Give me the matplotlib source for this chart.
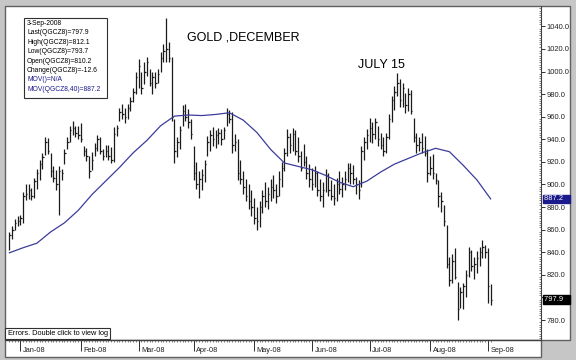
import numpy as np
import pandas as pd
import matplotlib
matplotlib.use("Agg")
import matplotlib.pyplot as plt
import matplotlib.transforms as mtransforms
from matplotlib.patches import Rectangle

plt.rcParams['font.family'] = ['Liberation Sans', 'DejaVu Sans']

# trading days shown on the chart (Dec gold futures)
holidays = ["2008-01-01", "2008-03-21", "2008-05-26", "2008-07-04", "2008-09-01"]
dates = pd.bdate_range("2007-12-26", "2008-09-03")
dates = dates[~dates.isin(pd.to_datetime(holidays))]

highs = [858, 863, 869, 872, 873, 893, 900, 900, 897, 906,
         914, 922, 928, 942, 941, 928, 916, 913, 916, 914,
         931, 942, 952, 956, 952, 952, 954, 934, 932, 925,
         929, 937, 944, 942, 931, 935, 935, 933, 951, 953,
         968, 971, 968, 971, 977, 985, 1000, 1011, 1000, 1008,
         1013, 1002, 1000, 1000, 1002, 1017, 1024, 1047, 1026, 1013,
         958, 942, 952, 970, 971, 967, 958, 934, 920, 912,
         914, 922, 943, 948, 951, 948, 950, 949, 951, 968,
         966, 964, 945, 940, 922, 912, 905, 900, 895, 888,
         880, 885, 895, 902, 898, 905, 908, 900, 912, 920,
         932, 949, 946, 950, 948, 942, 930, 936, 925, 918,
         915, 916, 912, 905, 902, 914, 910, 904, 900, 906,
         912, 907, 912, 919, 919, 917, 907, 904, 934, 942,
         949, 959, 955, 959, 952, 946, 942, 946, 962, 978,
         987, 999, 993, 990, 981, 985, 984, 959, 946, 942,
         946, 943, 931, 925, 927, 910, 904, 893, 882, 864,
         836, 838, 844, 814, 809, 813, 824, 845, 842, 836,
         841, 845, 851, 846, 844, 812.1]
lows = [842, 852, 860, 863, 864, 866, 886, 887, 886, 888,
        896, 904, 914, 926, 927, 907, 902, 895, 873, 904,
        918, 931, 938, 944, 942, 940, 938, 925, 921, 906,
        913, 925, 930, 927, 922, 924, 922, 919, 920, 943,
        956, 958, 954, 958, 965, 973, 980, 985, 980, 989,
        996, 987, 980, 985, 990, 1000, 1008, 1008, 1008, 956,
        919, 924, 931, 952, 956, 950, 940, 904, 896, 888,
        895, 902, 925, 930, 934, 932, 936, 935, 940, 952,
        954, 928, 930, 904, 900, 892, 885, 878, 872, 865,
        860, 862, 875, 880, 878, 885, 888, 884, 890, 898,
        912, 925, 928, 930, 926, 920, 912, 916, 905, 898,
        895, 898, 890, 885, 880, 893, 890, 886, 882, 885,
        892, 889, 895, 902, 900, 900, 892, 887, 898, 922,
        931, 938, 937, 940, 934, 931, 925, 928, 940, 955,
        966, 978, 969, 969, 963, 965, 962, 938, 928, 930,
        928, 925, 902, 908, 905, 900, 880, 876, 863, 826,
        810, 813, 816, 780, 791, 790, 800, 818, 823, 816,
        822, 828, 835, 835, 795, 793.7]
closes = [855, 860, 866, 868, 870, 890, 892, 895, 890, 903,
          910, 918, 924, 938, 930, 912, 906, 900, 912, 910,
          928, 938, 948, 950, 946, 944, 940, 930, 925, 912,
          922, 932, 940, 930, 925, 930, 925, 922, 945, 950,
          964, 962, 960, 968, 974, 982, 995, 1005, 985, 1000,
          1008, 990, 995, 990, 998, 1012, 1018, 1020, 1012, 960,
          930, 938, 948, 965, 960, 955, 945, 910, 900, 905,
          908, 918, 938, 944, 940, 944, 946, 940, 948, 962,
          958, 935, 938, 910, 905, 898, 890, 885, 880, 870,
          868, 880, 890, 885, 892, 898, 895, 890, 905, 915,
          928, 942, 935, 945, 930, 925, 915, 920, 910, 905,
          900, 910, 895, 890, 895, 908, 895, 890, 888, 900,
          896, 900, 905, 915, 910, 905, 900, 895, 930, 938,
          944, 950, 945, 955, 940, 935, 930, 942, 958, 975,
          982, 990, 975, 985, 970, 980, 965, 942, 935, 938,
          932, 928, 910, 915, 910, 904, 890, 885, 868, 830,
          815, 832, 818, 790, 805, 810, 820, 840, 828, 830,
          835, 840, 845, 840, 810.5, 797.9]

# 40-day moving average, read every 5th bar
ma40 = [839.5, 844, 848, 858, 866, 877, 891, 903, 915, 928,
        939, 952, 960.5, 961.5, 961, 962, 963.5, 957, 946, 931,
        919, 916, 913, 908, 902, 898, 903, 911, 918, 923,
        928, 932, 929, 917, 904, 887.2]

legend_lines = ["3-Sep-2008", "Last(QGCZ8)=797.9", "High(QGCZ8)=812.1",
                "Low(QGCZ8)=793.7", "Open(QGCZ8)=810.2", "Change(QGCZ8)=-12.6",
                "MOV()=N/A", "MOV(QGCZ8,40)=887.2"]
legend_colors = ["black"] * 6 + ["#1a1a8c"] * 2

W, H = 576, 360
BG = "#c6c6c6"
BAR = "#1a1a1a"
NAVY = "#1a1a8c"


def frect(x0, y0, x1, y1):
    # pixel box (top-left origin) -> figure fraction rect
    return [x0 / W, 1 - y1 / H, (x1 - x0) / W, (y1 - y0) / H]


fig = plt.figure(figsize=(W / 100, H / 100), dpi=100)
fig.patch.set_facecolor(BG)

# white chart panel + right price strip + bottom date strip
for x0, y0, x1, y1 in [(5, 6, 570, 340), (5, 340, 541, 357)]:
    r = frect(x0, y0, x1, y1)
    fig.add_artist(Rectangle((r[0], r[1]), r[2], r[3], transform=fig.transFigure,
                             facecolor="white", edgecolor="#606060", lw=1.0, zorder=0))

ax = fig.add_axes(frect(5, 6, 541, 340))
ax.set_facecolor("none")

x = np.arange(len(dates))
ax.vlines(x, lows, highs, color=BAR, lw=0.9)
ax.hlines(closes, x, x + 0.55, color=BAR, lw=0.9)
ax.plot(x[::5], ma40, color="#3c3c9c", lw=0.9)

ax.set_xlim(-1.6, 193.3)
ax.set_ylim(762.3, 1058)

for s in ["left", "top"]:
    ax.spines[s].set_visible(False)
ax.spines["right"].set_color("#404040")
ax.spines["bottom"].set_color("#404040")
ax.spines["right"].set_linewidth(0.8)
ax.spines["bottom"].set_linewidth(0.8)

# price axis on the right (800.0 sits under the last-price box)
yt = np.arange(780, 1041, 20)
ax.yaxis.tick_right()
ax.set_yticks(yt)
ax.set_yticklabels(["" if v == 800 else f"{v:.1f}" for v in yt], fontsize=5.4, color="#202020")
ax.set_yticks(np.arange(764, 1058, 2), minor=True)
ax.tick_params(axis="y", which="major", length=3, width=0.7, pad=1, color="#303030")
ax.tick_params(axis="y", which="minor", length=1.2, width=0.5, direction="in", color="#505050")

# date axis: month starts
month_idx = [np.where(dates.to_period("M") == p)[0][0]
             for p in dates.to_period("M").unique()[1:]]
ax.set_xticks(month_idx)
ax.set_xticklabels([])
ax.set_xticks(x, minor=True)
ax.tick_params(axis="x", which="major", length=8, width=0.7, color="#303030")
ax.tick_params(axis="x", which="minor", length=1.5, width=0.5, color="#505050")
lab_tr = mtransforms.offset_copy(ax.get_xaxis_transform(), fig=fig, x=2.5, y=-10.5, units="dots")
for i in month_idx:
    ax.text(i, 0, dates[i].strftime("%b-%y"), transform=lab_tr, fontsize=5.3,
            ha="left", va="center", color="#202020", clip_on=False)

# last-value boxes on the price axis
val_tr = mtransforms.offset_copy(ax.get_yaxis_transform(), fig=fig, x=2.5, y=0, units="dots")
ax.text(1, ma40[-1], f"{ma40[-1]:.1f}   ", transform=val_tr, fontsize=5.4, color="white",
        ha="left", va="center", clip_on=False, zorder=5,
        bbox=dict(boxstyle="square,pad=0.12", fc=NAVY, ec=NAVY))
ax.text(1, closes[-1], f"{closes[-1]:.1f}   ", transform=val_tr, fontsize=5.4, color="white",
        ha="left", va="center", clip_on=False, zorder=5,
        bbox=dict(boxstyle="square,pad=0.12", fc="black", ec="black"))

# annotations
ax.text(0.339, 0.905, "GOLD ,DECEMBER", transform=ax.transAxes, fontsize=9, ha="left", va="center")
ax.text(0.659, 0.823, "JULY 15", transform=ax.transAxes, fontsize=9, ha="left", va="center")

# legend box top-left
r = frect(24, 18, 107, 98)
fig.add_artist(Rectangle((r[0], r[1]), r[2], r[3], transform=fig.transFigure,
                         facecolor="white", edgecolor="#303030", lw=0.8, zorder=4))
for k, (t, c) in enumerate(zip(legend_lines, legend_colors)):
    fig.text(27 / W, 1 - (23.5 + 9.4 * k) / H, t, fontsize=4.9, color=c,
             ha="left", va="center", zorder=5)

# error box bottom-left
r = frect(5, 328, 110, 339)
fig.add_artist(Rectangle((r[0], r[1]), r[2], r[3], transform=fig.transFigure,
                         facecolor="white", edgecolor="#303030", lw=0.8, zorder=4))
fig.text(8 / W, 1 - 333.5 / H, "Errors. Double click to view log", fontsize=5.3,
         ha="left", va="center", zorder=5)

fig.savefig("out.png", dpi=100, facecolor=fig.get_facecolor())
